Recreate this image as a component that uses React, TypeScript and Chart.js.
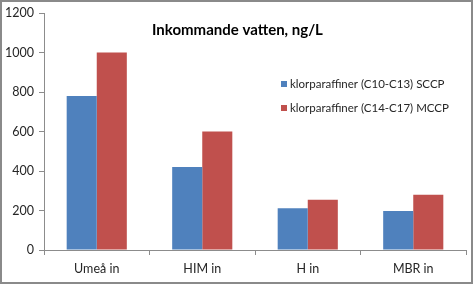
import React, { useEffect, useRef } from "react";
import { Chart, registerables } from "chart.js";

Chart.register(...registerables);

const categories = ["Umeå in", "HIM in", "H in", "MBR in"];
const sccpValues = [780, 420, 212, 198];
const mccpValues = [1000, 600, 255, 280];
const seriesNames = ["klorparaffiner (C10-C13) SCCP", "klorparaffiner (C14-C17) MCCP"];
const titleText = "Inkommande vatten, ng/L";
const colors = ["#4F81BD", "#C0504D"];

const FONT = "Lato, 'Open Sans', sans-serif";

const overlayPlugin = {
  id: "overlay",
  beforeDraw(chart: any) {
    const ctx = chart.ctx;
    ctx.save();
    ctx.fillStyle = "#ffffff";
    ctx.fillRect(0, 0, chart.width, chart.height);
    ctx.restore();
  },
  afterDraw(chart: any) {
    const ctx = chart.ctx;
    ctx.save();
    ctx.strokeStyle = "#8a8a8a";
    ctx.lineWidth = 2;
    ctx.strokeRect(1, 1, chart.width - 2, chart.height - 2);
    ctx.fillStyle = "#000000";
    ctx.font = `bold 15px ${FONT}`;
    ctx.textBaseline = "middle";
    ctx.textAlign = "left";
    ctx.fillText(titleText, 152, 30);
    ctx.font = `11.5px ${FONT}`;
    seriesNames.forEach((name, i) => {
      const y = 84 + i * 24;
      ctx.fillStyle = colors[i];
      ctx.fillRect(281, y - 3, 6, 6);
      ctx.fillStyle = "#262626";
      ctx.fillText(name, 290, y);
    });
    ctx.restore();
  },
};

export default function App() {
  const ref = useRef<HTMLCanvasElement>(null);
  useEffect(() => {
    document.body.style.margin = "0";
    const chart = new Chart(ref.current!, {
      type: "bar",
      data: {
        labels: categories,
        datasets: [
          { label: seriesNames[0], data: sccpValues, backgroundColor: colors[0], barPercentage: 1, categoryPercentage: 0.57 },
          { label: seriesNames[1], data: mccpValues, backgroundColor: colors[1], barPercentage: 1, categoryPercentage: 0.57 },
        ],
      },
      options: {
        animation: false,
        responsive: false,
        maintainAspectRatio: false,
        layout: { padding: { top: 13, right: 7, left: 0, bottom: 0 } },
        plugins: { legend: { display: false }, title: { display: false }, tooltip: { enabled: false } },
        scales: {
          x: {
            grid: { display: true, drawOnChartArea: false, drawTicks: true, tickLength: 5, color: "#8c8c8c", offset: true },
            border: { color: "#8c8c8c" },
            ticks: { color: "#262626", font: { family: FONT, size: 12.5 }, padding: 6 },
            afterFit(scale: any) { scale.height = 34; },
          },
          y: {
            min: 0,
            max: 1200,
            grid: { display: true, drawOnChartArea: false, drawTicks: true, tickLength: 5, color: "#8c8c8c" },
            border: { color: "#8c8c8c" },
            ticks: {
              stepSize: 200,
              color: "#262626",
              font: { family: FONT, size: 12.5 },
              padding: 5,
              callback: (v: any) => String(v),
            },
            afterFit(scale: any) { scale.width = 44; },
          },
        },
      },
      plugins: [overlayPlugin],
    });
    return () => chart.destroy();
  }, []);
  return <canvas ref={ref} width={473} height={284} style={{ display: "block", width: 473, height: 284 }} />;
}
